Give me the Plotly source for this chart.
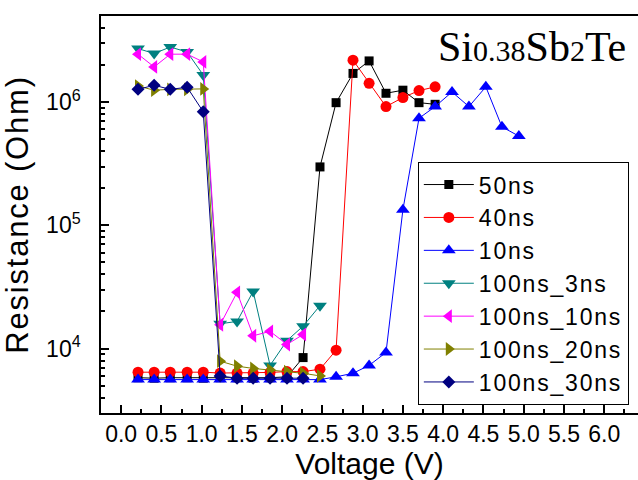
import plotly.graph_objects as go

# Voltage steps (V)
V = [0.21, 0.41, 0.61, 0.82, 1.02, 1.23, 1.44, 1.64, 1.85, 2.06, 2.26, 2.47,
     2.67, 2.88, 3.08, 3.29, 3.50, 3.70, 3.90, 4.11, 4.32, 4.53, 4.73, 4.94]

r_50ns = [5800, 5750, 5800, 5800, 5750, 5800, 5800, 5750, 5800, 5900, 8450,
          2.98e5, 9.9e5, 1.71e6, 2.16e6, 1.18e6, 1.25e6, 9.9e5, 9.6e5]
r_40ns = [6430, 6430, 6430, 6430, 6430, 6330, 6330, 6330, 6400, 6500, 6500,
          6800, 9700, 2.19e6, 1.42e6, 9.2e5, 1.09e6, 1.24e6, 1.33e6]
r_10ns = [5600, 5600, 5600, 5600, 5600, 5600, 5600, 5600, 5600, 5600, 5600, 5600,
          5900, 6300, 7300, 9300, 1.34e5, 7.4e5, 9.2e5, 1.21e6, 9.2e5, 1.33e6,
          6.3e5, 5.3e5]
r_100_3 = [2.72e6, 2.48e6, 2.8e6, 2.55e6, 1.66e6, 1.59e4, 1.66e4, 2.91e4,
           7300, 1.16e4, 1.52e4, 2.23e4]
r_100_10 = [2.45e6, 1.93e6, 2.45e6, 2.45e6, 2.12e6, 1.56e4, 2.86e4, 1.27e4,
            1.38e4, 1.08e4, 1.3e4]
r_100_20 = [1.35e6, 1.25e6, 1.27e6, 1.27e6, 1.28e6, 7900, 7200, 6900, 6700,
            6500, 6300, 6000]
r_100_30 = [1.27e6, 1.37e6, 1.27e6, 1.32e6, 8.35e5, 6000, 5750, 5750, 5750,
            5750, 5750]

names = ["50ns", "40ns", "10ns", "100ns_3ns", "100ns_10ns", "100ns_20ns", "100ns_30ns"]
series = [r_50ns, r_40ns, r_10ns, r_100_3, r_100_10, r_100_20, r_100_30]
colors = ["#000000", "#FF0000", "#0000FF", "#008080", "#FF00FF", "#808000", "#000080"]
symbols = ["square", "circle", "triangle-up", "triangle-down", "triangle-left",
           "triangle-right", "diamond"]
sizes = [9, 11, 12, 12, 12, 12, 10]

x_tickvals = [0.0, 0.5, 1.0, 1.5, 2.0, 2.5, 3.0, 3.5, 4.0, 4.5, 5.0, 5.5, 6.0]
x_ticktext = ["0.0", "0.5", "1.0", "1.5", "2.0", "2.5", "3.0", "3.5", "4.0",
              "4.5", "5.0", "5.5", "6.0"]
y_tickvals = [1e4, 1e5, 1e6]
y_ticktext = ["10<sup>4</sup>", "10<sup>5</sup>", "10<sup>6</sup>"]

spaced = "<span style='letter-spacing:1.8px'>{}</span>"

fig = go.Figure()
for name, ys, c, s, sz in zip(names, series, colors, symbols, sizes):
    fig.add_trace(go.Scatter(
        x=V[:len(ys)], y=ys, name=spaced.format(name), mode="lines+markers",
        line=dict(color=c, width=1),
        marker=dict(symbol=s, size=sz, color=c, line=dict(width=0)),
    ))

font_fam = "Liberation Sans, Arial, sans-serif"
title_text = ("Si<span style='font-size:30px'>0.38</span>"
              "Sb<span style='font-size:30px'>2</span>Te")
fig.update_layout(
    width=638, height=480,
    margin=dict(l=101, r=0, t=16, b=67),
    paper_bgcolor="white", plot_bgcolor="white",
    font=dict(family=font_fam, color="black"),
    showlegend=True,
    legend=dict(x=0.59, y=0.632, xanchor="left", yanchor="top",
                bordercolor="black", borderwidth=1, bgcolor="white",
                font=dict(size=23, family=font_fam), itemwidth=50,
                tracegroupgap=0),
    annotations=[dict(
        text=title_text, xref="paper", yref="paper",
        x=0.803, y=0.922, xanchor="center", yanchor="middle", showarrow=False,
        font=dict(family="Liberation Serif, Times New Roman, serif", size=42,
                  color="black"))],
)
fig.update_xaxes(
    range=[-0.25, 6.42], tickvals=x_tickvals, ticktext=x_ticktext,
    ticks="inside", ticklen=8, tickwidth=1.5, tickcolor="black",
    showline=True, linecolor="black", linewidth=1.5, mirror=True,
    showgrid=False, zeroline=False, automargin=False,
    tickfont=dict(size=23),
    minor=dict(dtick=0.25, tick0=0, ticks="inside", ticklen=4, tickcolor="black", showgrid=False),
    title=dict(text="Voltage (V)", font=dict(size=30), standoff=4),
)
fig.update_yaxes(
    type="log", range=[3.4771, 6.699], tickvals=y_tickvals, ticktext=y_ticktext,
    ticks="inside", ticklen=8, tickwidth=1.5, tickcolor="black",
    showline=True, linecolor="black", linewidth=1.5, mirror=False,
    showgrid=False, zeroline=False, automargin=False,
    tickfont=dict(size=23), ticklabelstandoff=14,
    minor=dict(dtick="D1", ticks="inside", ticklen=4, tickcolor="black", showgrid=False),
    title=dict(text="<span style='letter-spacing:1.8px'>Resistance (Ohm)</span>",
               font=dict(size=31), standoff=8),
)

fig.write_html("out.html", config={"displayModeBar": False},
               post_script="document.body.style.margin='0';document.body.style.overflow='hidden';")
